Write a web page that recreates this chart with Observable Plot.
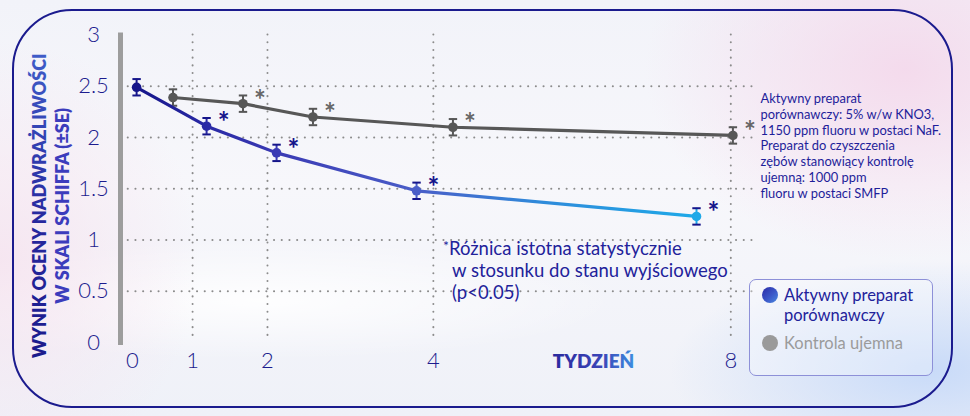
<!DOCTYPE html>
<html>
<head>
<meta charset="utf-8">
<script src="https://cdn.jsdelivr.net/npm/d3@7"></script>
<script src="https://cdn.jsdelivr.net/npm/@observablehq/plot@0.6"></script>
<style>
  html, body { margin: 0; padding: 0; }
  body {
    width: 970px; height: 416px; overflow: hidden;
    font-family: Lato, "Noto Sans", sans-serif;
    background:
      radial-gradient(ellipse 260px 190px at 905px 70px, rgba(244, 214, 234, 0.85), rgba(244, 214, 234, 0) 100%),
      radial-gradient(ellipse 260px 110px at 930px 370px, rgba(196, 216, 248, 0.9), rgba(196, 216, 248, 0) 100%),
      radial-gradient(ellipse 200px 220px at 0px 260px, rgba(246, 226, 238, 0.8), rgba(246, 226, 238, 0) 100%),
      radial-gradient(ellipse 360px 60px at 260px 300px, rgba(255, 255, 255, 0.9), rgba(255, 255, 255, 0) 100%),
      linear-gradient(180deg, #f2f3f9 0%, #f7f7fb 45%, #eff1f8 100%);
  }
  #wrap { position: relative; width: 970px; height: 416px; }
  #border {
    position: absolute; left: 12px; top: 9px; width: 941px; height: 399px;
    box-sizing: border-box; border: 2.5px solid #1b1b8e; border-radius: 60px;
  }
  #chart { position: absolute; left: 0; top: 0; }
  #footnote {
    position: absolute; left: 443px; top: 235px;
    font-size: 18.5px; line-height: 22px; color: #22229a; white-space: nowrap;
  }
  #footnote .ind { padding-left: 9px; }
  #footnote .star { font-size: 14px; vertical-align: 4px; }
  #legend {
    position: absolute; left: 749px; top: 279px; width: 184px; height: 97px;
    box-sizing: border-box; border: 1px solid #8d90d8; border-radius: 7px;
    background: rgba(255, 255, 255, 0.3);
  }
  .sw { position: absolute; width: 16px; height: 16px; border-radius: 50%; }
  .lt { position: absolute; font-size: 16.5px; line-height: 20px; width: 142px; }
</style>
</head>
<body>
<div id="wrap">
  <div id="border"></div>
  <div id="chart"></div>
  <div id="footnote"></div>
  <div id="legend"></div>
</div>
<script>
// ---- data ----
const weeks = [0, 1, 2, 4, 8];
const activeMean = [2.49, 2.11, 1.85, 1.48, 1.23];
const activeSE = [0.08, 0.08, 0.08, 0.08, 0.08];
const activeSig = [false, true, true, true, true];
const controlMean = [2.39, 2.33, 2.20, 2.10, 2.02];
const controlSE = [0.08, 0.08, 0.08, 0.08, 0.08];
const controlSig = [false, true, true, true, true];
const controlShift = 0.52; // control series drawn half a step to the right
const xTickValues = [-0.06, 0.8, 1.87, 4.24, 8.49];
const xTickLabels = ["0", "1", "2", "4", "8"];
const xGridValues = [0.8, 1.87, 4.24, 8.49];
const yTickValues = [0, 0.5, 1, 1.5, 2, 2.5, 3];
const yGridValues = [0.5, 1, 1.5, 2, 2.5];
const seriesNames = ["Aktywny preparat porównawczy", "Kontrola ujemna"];
const yTitle1 = "WYNIK OCENY NADWRAŻLIWOŚCI";
const yTitle2 = "W SKALI SCHIFFA (±SE)";
const xTitle = "TYDZIEŃ";
const noteText = "Aktywny preparat\nporównawczy: 5% w/w KNO3,\n1150 ppm fluoru w postaci NaF.\nPreparat do czyszczenia\nzębów stanowiący kontrolę\nujemną: 1000 ppm\nfluoru w postaci SMFP";
const footnoteLines = ["Różnica istotna statystycznie", "w stosunku do stanu wyjściowego", "(p<0.05)"];

const active = weeks.map((w, i) => ({x: w, v: activeMean[i], se: activeSE[i], sig: activeSig[i]}));
const control = weeks.map((w, i) => ({x: w + controlShift, v: controlMean[i], se: controlSE[i], sig: controlSig[i]}));

const NAVY = "#1c1c8e";
const GRAY = "#575757";
const BLUE = "url(#blueGrad)";
const dotted = {stroke: "#8c8c8c", strokeOpacity: 1, strokeWidth: 2, strokeDasharray: "0.1,7.6", strokeLinecap: "round"};
const cap = {draw(ctx, size) { const r = Math.sqrt(size / Math.PI); ctx.moveTo(-r, 0); ctx.lineTo(r, 0); }};

function seriesMarks(data, color, starColor) {
  return [
    Plot.line(data, {x: "x", y: "v", stroke: color, strokeWidth: 3.2}),
    Plot.ruleX(data, {x: "x", y1: d => d.v - d.se, y2: d => d.v + d.se, stroke: color, strokeWidth: 2}),
    Plot.dot(data, {x: "x", y: d => d.v + d.se, symbol: cap, r: 4.2, stroke: color, strokeWidth: 2, fill: "none"}),
    Plot.dot(data, {x: "x", y: d => d.v - d.se, symbol: cap, r: 4.2, stroke: color, strokeWidth: 2, fill: "none"}),
    Plot.dot(data, {x: "x", y: "v", r: 4.8, fill: color, stroke: "none"}),
    Plot.text(data.filter(d => d.sig), {x: "x", y: "v", text: () => "*", dx: 17, dy: -3, fontSize: 28, fontWeight: 700, fill: starColor})
  ];
}

const chart = Plot.plot({
  width: 970, height: 416,
  marginLeft: 120, marginRight: 218, marginTop: 34.5, marginBottom: 74,
  x: {domain: [-0.23, 8.8], axis: null},
  y: {domain: [0, 3], axis: null},
  style: {background: "transparent", fontFamily: "Lato, 'Noto Sans', sans-serif", overflow: "visible"},
  marks: [
    Plot.gridY(yGridValues, dotted),
    Plot.gridX(xGridValues, dotted),
    Plot.ruleX([-0.23], {stroke: "#9d9d9d", strokeWidth: 5, insetTop: -2, insetBottom: -3}),
    ...seriesMarks(control, GRAY, "#666666"),
    ...seriesMarks(active, BLUE, BLUE),
    Plot.text(yTickValues, {y: d => d, text: d => String(d), frameAnchor: "left", dx: -27, textAnchor: "middle", fontSize: 22, fontWeight: 300, fill: NAVY}),
    Plot.text(xTickValues, {x: d => d, text: (d, i) => xTickLabels[i], frameAnchor: "bottom", dy: 25, fontSize: 22, fontWeight: 300, fill: NAVY}),
    Plot.text([xTitle], {text: d => d, frameAnchor: "bottom", dx: 157, dy: 25, fontSize: 19, fontWeight: 800, fill: "url(#xTitleGrad)"}),
    Plot.text([yTitle1], {text: d => d, frameAnchor: "left", textAnchor: "middle", rotate: -90, dx: -80, dy: 17, fontSize: 18, fontWeight: 800, fill: "url(#yTitleGrad)"}),
    Plot.text([yTitle2], {text: d => d, frameAnchor: "left", textAnchor: "middle", rotate: -90, dx: -57, dy: 17, fontSize: 18, fontWeight: 800, fill: "#3c3cbc"}),
    Plot.text([noteText], {text: d => d, frameAnchor: "top-right", dx: 8, dy: 57, textAnchor: "start", lineAnchor: "top", lineHeight: 1.22, fontSize: 12.9, fill: "#1e1e9a"})
  ]
});

document.getElementById("chart").appendChild(chart);

// gradients
const xs = chart.scale("x");
const defs = d3.select(chart).insert("defs", ":first-child");
const bg = defs.append("linearGradient").attr("id", "blueGrad").attr("gradientUnits", "userSpaceOnUse")
  .attr("x1", xs.apply(weeks[0])).attr("x2", xs.apply(weeks[weeks.length - 1])).attr("y1", 0).attr("y2", 0);
[[0, "#15158a"], [0.13, "#2a2aa6"], [0.25, "#3a3ab4"], [0.5, "#4a5ec8"], [0.72, "#2f8ada"], [1, "#1ea9e8"]]
  .forEach(([o, c]) => bg.append("stop").attr("offset", o).attr("stop-color", c));
const xg = defs.append("linearGradient").attr("id", "xTitleGrad");
[[0, "#2a2a9e"], [0.6, "#3b45b8"], [1, "#3c8ee0"]].forEach(([o, c]) => xg.append("stop").attr("offset", o).attr("stop-color", c));
const yg = defs.append("linearGradient").attr("id", "yTitleGrad");
[[0, "#1b1b8c"], [0.45, "#26289e"], [1, "#3f5cc8"]].forEach(([o, c]) => yg.append("stop").attr("offset", o).attr("stop-color", c));

// footnote
const fn = document.getElementById("footnote");
fn.innerHTML = `<div><span class="star">*</span>${footnoteLines[0]}</div>` +
  footnoteLines.slice(1).map(l => `<div class="ind">${l.replace("<", "&lt;")}</div>`).join("");

// legend
const lg = document.getElementById("legend");
lg.innerHTML =
  `<span class="sw" style="left:12px;top:7px;background:linear-gradient(135deg,#2b2ba6,#3c58c8 55%,#4a8ae0)"></span>` +
  `<span class="lt" style="left:34px;top:5px;color:#22229a">${seriesNames[0]}</span>` +
  `<span class="sw" style="left:12px;top:55px;background:#9a9a9a"></span>` +
  `<span class="lt" style="left:34px;top:53px;color:#9b9b9b">${seriesNames[1]}</span>`;
</script>
</body>
</html>
